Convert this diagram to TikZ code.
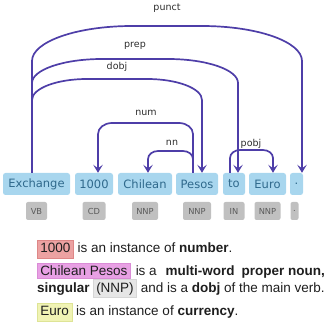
\documentclass[tikz,border=0pt]{standalone}
\usepackage{fontspec}
\setmainfont{Liberation Sans}
\newfontfamily\dejavu{DejaVu Sans}
\usetikzlibrary{arrows.meta,calc}
\definecolor{depc}{RGB}{78,62,168}
\definecolor{wordfill}{RGB}{168,214,238}
\definecolor{wordtext}{RGB}{47,105,140}
\definecolor{tagfill}{RGB}{192,192,192}
\definecolor{tagtext}{RGB}{90,90,90}
\definecolor{lbltext}{RGB}{45,45,45}
\definecolor{bodytext}{RGB}{30,30,30}
\definecolor{hlred}{RGB}{236,162,162}
\definecolor{hlredd}{RGB}{222,135,135}
\definecolor{hlmag}{RGB}{232,160,228}
\definecolor{hlmagd}{RGB}{218,140,214}
\definecolor{hlgray}{RGB}{230,230,230}
\definecolor{hlgrayd}{RGB}{214,214,214}
\definecolor{hlyel}{RGB}{240,243,180}
\definecolor{hlyeld}{RGB}{222,228,150}
\begin{document}
\begin{tikzpicture}[x=1pt,y=1pt,
  word/.style={fill=wordfill, rounded corners=2.5pt, minimum height=22pt, inner xsep=0pt, inner ysep=0pt, text=wordtext, font=\dejavu\fontsize{11.5}{13}\selectfont},
  tagbox/.style={fill=tagfill, rounded corners=2pt, minimum height=18pt, inner xsep=0pt, inner ysep=0pt, text=tagtext, font=\dejavu\fontsize{8.3}{9}\selectfont},
  dep/.style={draw=depc, line width=1.7pt, -{Stealth[length=8pt,width=9.5pt,inset=3.5pt]}},
  lbl/.style={text=lbltext, inner sep=0pt, font=\dejavu\fontsize{9.5}{11}\selectfont},
  hl/.style={inner xsep=3pt, inner ysep=2pt, line width=0.5pt, text=bodytext, font=\fontsize{13.5}{16}\selectfont},
  txt/.style={inner sep=0pt, text=bodytext, font=\fontsize{13.5}{16}\selectfont}]
\useasboundingbox (0,0) rectangle (327,-326);

% words
\node[word, minimum width=67pt] (w1) at (36.5,-184) {Exchange};
\node[word, minimum width=38pt] (w2) at (94,-184) {1000};
\node[word, minimum width=54pt] (w3) at (145,-184) {Chilean};
\node[word, minimum width=42pt] (w4) at (197,-184) {Pesos};
\node[word, minimum width=22pt] (w5) at (234,-184) {to};
\node[word, minimum width=37pt] (w6) at (267.5,-184) {Euro};
\node[word, minimum width=13pt] (w7) at (296.5,-184) {.};

% tags
\node[tagbox, minimum width=21pt] (t1) at ([yshift=-27pt]w1.center) {VB};
\node[tagbox, minimum width=23pt] (t2) at ([yshift=-27pt]w2.center) {CD};
\node[tagbox, minimum width=26pt] (t3) at ([yshift=-27pt]w3.center) {NNP};
\node[tagbox, minimum width=28pt] (t4) at ([yshift=-27pt]w4.center) {NNP};
\node[tagbox, minimum width=21pt] (t5) at ([yshift=-27pt]w5.center) {IN};
\node[tagbox, minimum width=26pt] (t6) at ([yshift=-27pt]w6.center) {NNP};
\node[tagbox, minimum width=8pt] (t7) at ([xshift=-2pt,yshift=-27pt]w7.center) {.};

% dependency arcs
\draw[dep] ([xshift=-4.5pt]w1.north) -- (32,-61)
  arc[start angle=180,end angle=90,x radius=100pt,y radius=35pt] -- (202,-26)
  arc[start angle=90,end angle=0,x radius=100pt,y radius=35pt] -- ([xshift=5.5pt]w7.north);
\draw[dep] ([xshift=-4.5pt]w1.north) -- (32,-83)
  arc[start angle=180,end angle=90,x radius=70pt,y radius=24pt] -- (168,-59)
  arc[start angle=90,end angle=0,x radius=70pt,y radius=24pt] -- ([xshift=4pt]w5.north);
\draw[dep] ([xshift=-4.5pt]w1.north) -- (32,-100)
  arc[start angle=180,end angle=90,x radius=55pt,y radius=21pt] -- (147,-79)
  arc[start angle=90,end angle=0,x radius=55pt,y radius=21pt] -- ([xshift=5pt]w4.north);
\draw[dep] ([xshift=-4pt]w4.north) -- (193,-134)
  arc[start angle=0,end angle=90,x radius=14pt,y radius=11pt] -- (112,-123)
  arc[start angle=90,end angle=180,x radius=14pt,y radius=11pt] -- ([xshift=4pt]w2.north);
\draw[dep] ([xshift=-4pt]w4.north) -- (193,-159)
  arc[start angle=0,end angle=90,x radius=10pt,y radius=8pt] -- (158,-151)
  arc[start angle=90,end angle=180,x radius=10pt,y radius=8pt] -- ([xshift=3pt]w3.north);
\draw[dep] ([xshift=-4pt]w5.north) -- (230,-158)
  arc[start angle=180,end angle=90,x radius=10pt,y radius=8pt] -- (263,-150)
  arc[start angle=90,end angle=0,x radius=10pt,y radius=8pt] -- ([xshift=5.5pt]w6.north);

% arc labels
\node[lbl] (l1) at (167,-8) {punct};
\node[lbl] (l2) at (135,-46) {prep};
\node[lbl] (l3) at (117,-67) {dobj};
\node[lbl] (l4) at (146,-113) {num};
\node[lbl] (l5) at (172,-143) {nn};
\node[lbl] (l6) at (251,-144) {pobj};

% explanation text
\node[hl, fill=hlred, draw=hlredd, text height=11pt, text depth=3pt, anchor=base west] (h1) at (37,-253) {1000};
\node[txt, anchor=base west] (s1) at ([xshift=4pt]h1.base east) {is an instance of \textbf{number}.};

\node[hl, fill=hlmag, draw=hlmagd, text height=11pt, text depth=0pt, anchor=base west] (h2) at (37,-276) {Chilean Pesos};
\node[txt, anchor=base west] (s2) at ([xshift=5pt]h2.base east) {is a};
\node[txt, anchor=base east] (s3) at (325,-276) {\textbf{multi-word}\hspace{7pt}\textbf{proper noun,}};

\node[txt, anchor=base west] (s4) at (37,-292) {\textbf{singular}};
\node[hl, fill=hlgray, draw=hlgrayd, text height=11pt, text depth=3pt, anchor=base west] (h3) at (93,-292) {(NNP)};
\node[txt, anchor=base west] (s5) at ([xshift=3.75pt]h3.base east) {and is a \textbf{dobj} of the main verb.};

\node[hl, fill=hlyel, draw=hlyeld, text height=11pt, text depth=3pt, anchor=base west] (h4) at (37,-316) {Euro};
\node[txt, anchor=base west] (s6) at ([xshift=4pt]h4.base east) {is an instance of \textbf{currency}.};
\end{tikzpicture}
\end{document}
